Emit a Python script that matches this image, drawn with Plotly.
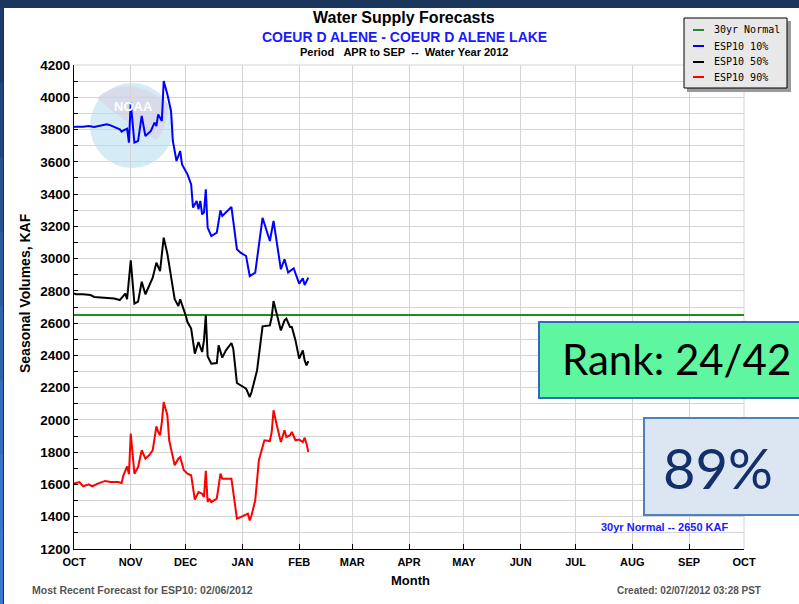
import plotly.graph_objects as go

# ---------------------------------------------------------------------------
# Data: ESP10 seasonal volume forecasts (KAF), APR-SEP period, water year 2012
# ---------------------------------------------------------------------------
NORMAL_KAF = 2650
NORMAL_SPAN = ["2011-10-01", "2012-10-01"]

MONTH_TICKS = ["2011-10-01", "2011-11-01", "2011-12-01", "2012-01-01", "2012-02-01",
               "2012-03-01", "2012-04-01", "2012-05-01", "2012-06-01", "2012-07-01",
               "2012-08-01", "2012-09-01", "2012-10-01"]
MONTH_LABELS = ["OCT", "NOV", "DEC", "JAN", "FEB", "MAR", "APR", "MAY", "JUN",
                "JUL", "AUG", "SEP", "OCT"]

esp10_dates = ["2011-10-01", "2011-10-02", "2011-10-06", "2011-10-09", "2011-10-12", "2011-10-16",
               "2011-10-19", "2011-10-21", "2011-10-24", "2011-10-26", "2011-10-27", "2011-10-28",
               "2011-10-30", "2011-10-31",
               "2011-11-01", "2011-11-03", "2011-11-05", "2011-11-07", "2011-11-09", "2011-11-12",
               "2011-11-14", "2011-11-15", "2011-11-16", "2011-11-18", "2011-11-19", "2011-11-21",
               "2011-11-23", "2011-11-24", "2011-11-26", "2011-11-28", "2011-11-29",
               "2011-12-02", "2011-12-04", "2011-12-05", "2011-12-07", "2011-12-08", "2011-12-09",
               "2011-12-10", "2011-12-11", "2011-12-12", "2011-12-13", "2011-12-15", "2011-12-18",
               "2011-12-20", "2011-12-21", "2011-12-23", "2011-12-26", "2011-12-29", "2011-12-31",
               "2012-01-03", "2012-01-05", "2012-01-08", "2012-01-12", "2012-01-16", "2012-01-18",
               "2012-01-22", "2012-01-24", "2012-01-26", "2012-01-29",
               "2012-02-01", "2012-02-03", "2012-02-04", "2012-02-06"]
esp10_values = [3815, 3818, 3818, 3822, 3816, 3826, 3832, 3826, 3812, 3801, 3787, 3795, 3805, 3719,
                3967, 3719, 3729, 3884, 3760, 3791, 3843, 3822, 3894, 3853, 4101, 4018, 3915, 3729,
                3605, 3667, 3584,
                3522, 3460, 3316, 3357, 3305, 3357, 3274, 3285, 3429, 3192, 3140, 3161, 3299, 3264,
                3285, 3320, 3058, 3037,
                3016, 2892, 2913, 3253, 3109, 3233, 2934, 2996, 2913, 2940,
                2845, 2878, 2836, 2882]

esp50_dates = ["2011-10-01", "2011-10-02", "2011-10-06", "2011-10-10", "2011-10-12", "2011-10-18",
               "2011-10-23", "2011-10-26", "2011-10-27", "2011-10-29", "2011-10-30",
               "2011-11-01", "2011-11-03", "2011-11-05", "2011-11-07", "2011-11-09", "2011-11-13",
               "2011-11-15", "2011-11-17", "2011-11-19", "2011-11-21", "2011-11-23", "2011-11-25",
               "2011-11-27", "2011-11-28",
               "2011-12-01", "2011-12-02", "2011-12-04", "2011-12-05", "2011-12-06", "2011-12-08",
               "2011-12-09", "2011-12-10", "2011-12-11", "2011-12-12", "2011-12-13", "2011-12-15",
               "2011-12-18", "2011-12-19", "2011-12-21", "2011-12-23", "2011-12-26", "2011-12-27",
               "2011-12-29", "2011-12-31",
               "2012-01-03", "2012-01-05", "2012-01-06", "2012-01-09", "2012-01-12", "2012-01-16",
               "2012-01-17", "2012-01-18", "2012-01-20", "2012-01-22", "2012-01-24", "2012-01-25",
               "2012-01-27", "2012-01-28", "2012-01-30",
               "2012-02-01", "2012-02-03", "2012-02-04", "2012-02-05", "2012-02-06"]
esp50_values = [2785, 2779, 2779, 2774, 2762, 2754, 2752, 2743, 2758, 2783, 2748,
                2989, 2721, 2733, 2857, 2779, 2882, 2975, 2923, 3130, 3031, 2882, 2748, 2706, 2748,
                2648, 2607, 2566, 2473, 2411, 2483, 2452, 2421, 2493, 2648, 2395, 2349, 2353, 2462,
                2386, 2431, 2477, 2442, 2229, 2214,
                2194, 2142, 2173, 2307, 2580, 2586, 2638, 2737, 2648, 2555, 2617, 2628, 2576, 2576,
                2493,
                2380, 2431, 2369, 2338, 2365]

esp90_dates = ["2011-10-01", "2011-10-04", "2011-10-06", "2011-10-09", "2011-10-11", "2011-10-14",
               "2011-10-18", "2011-10-21", "2011-10-25", "2011-10-27", "2011-10-28", "2011-10-30",
               "2011-10-31",
               "2011-11-01", "2011-11-02", "2011-11-03", "2011-11-05", "2011-11-07", "2011-11-09",
               "2011-11-11", "2011-11-13", "2011-11-15", "2011-11-16", "2011-11-17", "2011-11-18",
               "2011-11-19", "2011-11-21", "2011-11-22", "2011-11-23", "2011-11-25", "2011-11-27",
               "2011-11-28", "2011-11-30",
               "2011-12-02", "2011-12-04", "2011-12-05", "2011-12-06", "2011-12-08", "2011-12-10",
               "2011-12-11", "2011-12-12", "2011-12-13", "2011-12-14", "2011-12-15", "2011-12-18",
               "2011-12-20", "2011-12-21", "2011-12-26", "2011-12-27", "2011-12-29", "2011-12-31",
               "2012-01-04", "2012-01-05", "2012-01-06", "2012-01-08", "2012-01-10", "2012-01-13",
               "2012-01-16", "2012-01-17", "2012-01-18", "2012-01-20", "2012-01-22", "2012-01-24",
               "2012-01-25", "2012-01-27", "2012-01-28", "2012-01-30",
               "2012-02-01", "2012-02-03", "2012-02-04", "2012-02-05", "2012-02-06"]
esp90_values = [1605, 1615, 1588, 1601, 1588, 1605, 1622, 1615, 1615, 1609, 1657, 1712, 1663,
                1915, 1791, 1667, 1708, 1812, 1760, 1781, 1812, 1960, 1925, 1905, 1987, 2111, 2029,
                1874, 1822, 1719, 1760, 1770, 1688,
                1667, 1657, 1584, 1506, 1553, 1543, 1522, 1684, 1491, 1512, 1491, 1512, 1667, 1636,
                1636, 1553, 1388, 1398,
                1419, 1377, 1409, 1502, 1750, 1874, 1869, 1925, 2060, 1956, 1863, 1936, 1894, 1905,
                1925, 1874,
                1878, 1863, 1890, 1853, 1801]

SERIES = [
    ("ESP10 10%", esp10_dates, esp10_values, "#0000ff"),
    ("ESP10 50%", esp50_dates, esp50_values, "#000000"),
    ("ESP10 90%", esp90_dates, esp90_values, "#ff0000"),
]
NORMAL_NAME, NORMAL_COLOR = "30yr Normal", "#228b22"

# ---------------------------------------------------------------------------
# Page geometry (pixels) and helpers to place decorations in paper space
# ---------------------------------------------------------------------------
W, H = 799, 604
ML, MR, MT, MB = 74, 55, 65, 55
PW, PH = W - ML - MR, H - MT - MB


def px(x):
    return (x - ML) / PW


def py(y):
    return (H - MB - y) / PH


ARIAL = "Liberation Sans, Arial, sans-serif"
MONO = "DejaVu Sans Mono, monospace"
SLIDE = "Lato, Calibri, sans-serif"

fig = go.Figure()

fig.add_trace(go.Scatter(x=NORMAL_SPAN, y=[NORMAL_KAF, NORMAL_KAF], mode="lines",
                         line=dict(color=NORMAL_COLOR, width=2), name=NORMAL_NAME,
                         hoverinfo="skip"))
for name, dates, vals, color in SERIES:
    fig.add_trace(go.Scatter(x=dates, y=vals, mode="lines", name=name,
                             line=dict(color=color, width=2)))

shapes = []


def rect(x0, y0, x1, y1, fill, line_color=None, line_width=0, layer="below"):
    shapes.append(dict(type="rect", xref="paper", yref="paper",
                       x0=px(x0), x1=px(x1), y0=py(y1), y1=py(y0),
                       fillcolor=fill, layer=layer,
                       line=dict(color=line_color or fill, width=line_width)))


# white sheet on the dark slide background, with a blue strip on the left edge
rect(4, 8, W + 2, H + 2, "#ffffff")
strip = ["#1d3b6e", "#22457e", "#27508f", "#2c5a9f", "#3164ae", "#356dbc", "#3975c8", "#3b79ce"]
band = (H - 8) / len(strip)
for i, c in enumerate(strip):
    rect(0, 8 + i * band, 3, 8 + (i + 1) * band + 1, c)
rect(3, 8, 4, H, "#16305a")

# faded NOAA emblem behind the plot
shapes.append(dict(type="circle", xref="paper", yref="paper", layer="below",
                   x0=px(90), x1=px(174), y0=py(168), y1=py(83),
                   fillcolor="#d5ebf6", line=dict(width=0)))
cap = "M {} {} Q {} {} {} {} Q {} {} {} {} Q {} {} {} {} Z".format(
    px(97), py(98),
    px(128), py(72), px(168), py(104),
    px(168), py(128), px(156), py(140),
    px(124), py(122), px(97), py(98))
shapes.append(dict(type="path", xref="paper", yref="paper", layer="below", path=cap,
                   fillcolor="#d8dbe9", line=dict(width=0)))

# top and right frame of the plot area
shapes.append(dict(type="line", xref="paper", yref="paper", x0=0, x1=1, y0=1, y1=1,
                   line=dict(color="#d4d4d4", width=1), layer="below"))
shapes.append(dict(type="line", xref="paper", yref="paper", x0=1, x1=1, y0=0, y1=1,
                   line=dict(color="#d4d4d4", width=1), layer="below"))

# legend box with drop shadow
rect(687, 21, 791, 92, "#9a9a9a", layer="above")
rect(684, 18, 787, 88, "#e8e8e8", "#000000", 1, layer="above")
legend_rows = [(NORMAL_NAME, NORMAL_COLOR)] + [(n, c) for n, _, _, c in SERIES]
legend_y = [30, 46, 62, 77]

# overlay boxes
rect(539, 322, W + 5, 398, "#5ef7a0", "#2e6bc0", 2, layer="above")
rect(644, 418, W + 5, 515, "#dce6f2", "#4f81bd", 2, layer="above")

annotations = []


def label(x, y, text, size, color="#000000", family=ARIAL, weight="bold",
          xanchor="center", textangle=0):
    annotations.append(dict(xref="paper", yref="paper", x=px(x), y=py(y), text=text,
                            showarrow=False, xanchor=xanchor, yanchor="middle",
                            textangle=textangle,
                            font=dict(family=family, size=size, color=color, weight=weight)))


for (name, color), yy in zip(legend_rows, legend_y):
    shapes.append(dict(type="line", xref="paper", yref="paper", layer="above",
                       x0=px(693), x1=px(704), y0=py(yy), y1=py(yy),
                       line=dict(color=color, width=2)))
    label(712, yy, name, 10, family=MONO, weight="normal", xanchor="left")

label(404, 17, "Water Supply Forecasts", 16)
label(404, 37, "COEUR D ALENE - COEUR D ALENE LAKE", 14, color="#1a1aff")
label(404, 52, "Period\u00a0\u00a0\u00a0APR to SEP\u00a0\u00a0--\u00a0\u00a0Water Year 2012", 11)
label(25, 293, "Seasonal Volumes, KAF", 14, textangle=-90)
label(410, 580, "Month", 13)
label(30, 590, "Most Recent Forecast for ESP10: 02/06/2012", 10.5, color="#555555",
      xanchor="left")
label(763, 590, "Created: 02/07/2012 03:28 PST", 10, color="#555555", xanchor="right")
label(664, 527, "{} -- {} KAF".format(NORMAL_NAME, NORMAL_KAF), 11, color="#1a1aff")
label(133, 106, "NOAA", 13, color="#ffffff")
label(676, 359, "Rank: 24/42", 42, family=SLIDE, weight="normal")
label(718, 467, "89%", 56, color="#14306b", family=SLIDE, weight="normal")

fig.update_layout(
    width=W, height=H,
    margin=dict(l=ML, r=MR, t=MT, b=MB, pad=0),
    paper_bgcolor="#1b365d",
    plot_bgcolor="rgba(0,0,0,0)",
    showlegend=False,
    shapes=shapes,
    annotations=annotations,
    xaxis=dict(type="date", range=NORMAL_SPAN, tickmode="array",
               tickvals=MONTH_TICKS, ticktext=MONTH_LABELS,
               ticks="inside", ticklen=5, tickcolor="#000000",
               ticklabelstandoff=3,
               showline=True, linecolor="#000000", linewidth=1,
               showgrid=True, gridcolor="#d4d4d4", gridwidth=1, zeroline=False,
               tickfont=dict(family=ARIAL, size=11, color="#000000", weight="bold")),
    yaxis=dict(range=[1200, 4200], tick0=1200, dtick=200,
               ticks="inside", ticklen=4, tickcolor="#000000",
               showline=True, linecolor="#000000", linewidth=1,
               showgrid=True, gridcolor="#d4d4d4", gridwidth=1, zeroline=False,
               minor=dict(dtick=100, ticks="inside", ticklen=4, tickcolor="#000000",
                          showgrid=True, gridcolor="#d4d4d4", gridwidth=1),
               tickfont=dict(family=ARIAL, size=13.5, color="#000000", weight="bold")),
)

fig.write_html("out.html")
